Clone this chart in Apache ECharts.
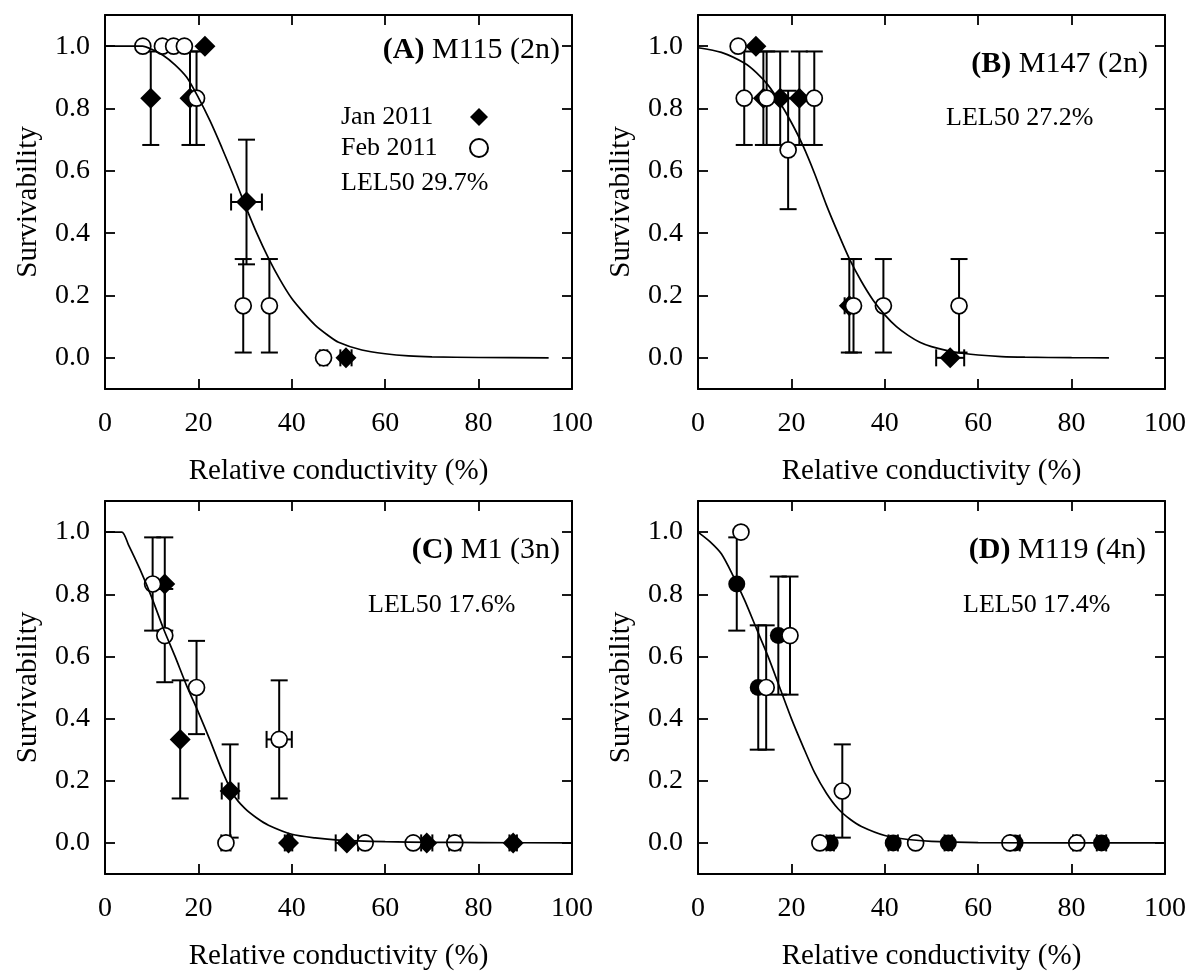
<!DOCTYPE html>
<html><head><meta charset="utf-8">
<script src="https://cdn.jsdelivr.net/npm/echarts@6.0.0/dist/echarts.min.js"></script>
<style>html,body{margin:0;padding:0;background:#fff}#c{width:1191px;height:975px}</style>
</head><body><div id="c"></div>
<script>
// ---------- data ----------
const xTicks = [0, 20, 40, 60, 80, 100];
const yTicks = [0, 0.2, 0.4, 0.6, 0.8, 1.0];
const seriesNames = ['Jan 2011', 'Feb 2011'];
// rows: [relative conductivity %, survivability, y error, x error]
const A_jan = [[9.8,0.833,0.15,0],[18.2,0.833,0.15,0],[21.4,1.0,0,0],[30.3,0.5,0.2,3.3],[51.6,0,0,1.2]];
const A_feb = [[8.1,1,0,0],[12.3,1,0,0],[14.7,1,0,0],[17.0,1,0,0],[19.6,0.833,0.15,0],[29.6,0.167,0.15,0],[35.2,0.167,0.15,0],[46.8,0,0,0.8]];
const A_fit = [[0,1],[8,1],[10,0.99],[12.5,0.97],[15,0.94],[17.5,0.9],[20,0.835],[22.5,0.76],[25,0.675],[27.5,0.585],[30,0.49],[32.5,0.4],[35,0.32],[37.5,0.25],[40,0.19],[42.5,0.145],[45,0.105],[47.5,0.075],[50,0.05],[55,0.025],[60,0.013],[65,0.006],[70,0.003],[80,0.001],[95,0]];

const B_jan = [[12.4,1,0,0],[14.0,0.833,0.15,0],[17.6,0.833,0.15,0],[21.7,0.833,0.15,0],[32.4,0.167,0.15,1.0],[54.0,0,0,3.0]];
const B_feb = [[8.6,1,0,0],[9.9,0.833,0.15,0],[14.7,0.833,0.15,0],[19.3,0.667,0.19,0],[24.9,0.833,0.15,0],[33.3,0.167,0.15,0],[39.7,0.167,0.15,0],[55.9,0.167,0.15,0]];
const B_fit = [[0,0.995],[5,0.98],[10,0.945],[12.5,0.915],[15,0.875],[17.5,0.82],[20,0.755],[22.5,0.68],[25,0.59],[27.5,0.49],[30,0.4],[32.5,0.315],[35,0.245],[37.5,0.185],[40,0.138],[42.5,0.1],[45,0.072],[47.5,0.05],[50,0.036],[55,0.018],[60,0.009],[65,0.004],[70,0.002],[80,0.0005],[88,0]];

const C_jan = [[12.8,0.833,0.15,0],[16.1,0.333,0.19,0],[26.8,0.167,0.15,1.8],[39.3,0,0,0.8],[51.8,0,0,2.4],[68.9,0,0,1.2],[87.4,0,0,0.8]];
const C_feb = [[10.2,0.833,0.15,0],[12.8,0.667,0.15,0],[19.6,0.5,0.15,0],[25.9,0,0,1.0],[37.3,0.333,0.19,2.7],[55.7,0,0,0],[66.0,0,0,0],[74.9,0,0,1.2]];
const C_fit = [[0,1],[3.6,1],[5,0.96],[7.5,0.88],[10,0.79],[12.5,0.69],[15,0.6],[17.5,0.505],[20,0.42],[22.5,0.33],[25,0.235],[27.5,0.155],[30,0.11],[32.5,0.08],[35,0.057],[40,0.028],[45,0.016],[50,0.009],[60,0.004],[70,0.002],[80,0.001],[100,0]];

const D_jan = [[8.3,0.833,0.15,0],[12.9,0.5,0.2,0],[17.2,0.667,0.19,0],[28.3,0,0,0.8],[41.8,0,0,1.0],[53.6,0,0,0.8],[67.9,0,0,1.0],[86.4,0,0,1.0]];
const D_feb = [[9.2,1,0,0],[14.6,0.5,0.2,0],[19.7,0.667,0.19,0],[30.9,0.167,0.15,0],[26.1,0,0,0],[46.6,0,0,0],[66.8,0,0,0],[81.1,0,0,0.8]];
const D_fit = [[0,1],[2.5,0.97],[5,0.93],[7.5,0.86],[10,0.78],[12.5,0.69],[15,0.6],[17.5,0.5],[20,0.4],[22.5,0.31],[25,0.225],[27.5,0.16],[30,0.11],[32.5,0.077],[35,0.053],[40,0.024],[45,0.011],[50,0.005],[60,0.001],[100,0]];

const panelTitles = [['(A)', ' M115 (2n)'], ['(B)', ' M147 (2n)'], ['(C)', ' M1 (3n)'], ['(D)', ' M119 (4n)']];
const lelTexts = ['LEL50 29.7%', 'LEL50 27.2%', 'LEL50 17.6%', 'LEL50 17.4%'];
const xName = 'Relative conductivity (%)';
const yName = 'Survivability';

// ---------- layout ----------
const FONT = '"Liberation Serif", "Times New Roman", serif';
const panels = [
  {grid:{left:105,top:15,width:467,height:374}, jan:A_jan, feb:A_feb, fit:A_fit, janSymbol:'diamond', titlePos:[560,50], lelPos:[341,183]},
  {grid:{left:698,top:15,width:467,height:374}, jan:B_jan, feb:B_feb, fit:B_fit, janSymbol:'diamond', titlePos:[1148,64], lelPos:[946,118]},
  {grid:{left:105,top:501,width:467,height:373}, jan:C_jan, feb:C_feb, fit:C_fit, janSymbol:'diamond', titlePos:[560,550], lelPos:[368,605]},
  {grid:{left:698,top:501,width:467,height:373}, jan:D_jan, feb:D_feb, fit:D_fit, janSymbol:'circle', titlePos:[1146,550], lelPos:[963,605]}
];

function errRender(params, api) {
  const x = api.value(0), y = api.value(1), ey = api.value(2), ex = api.value(3);
  const cap = 8.5, style = {stroke:'#000', lineWidth:2, fill:null};
  const ch = [];
  if (ey > 0) {
    const t = api.coord([x, y + ey]), b = api.coord([x, y - ey]);
    ch.push({type:'line', shape:{x1:t[0], y1:t[1], x2:b[0], y2:b[1]}, style});
    ch.push({type:'line', shape:{x1:t[0]-cap, y1:t[1], x2:t[0]+cap, y2:t[1]}, style});
    ch.push({type:'line', shape:{x1:b[0]-cap, y1:b[1], x2:b[0]+cap, y2:b[1]}, style});
  }
  if (ex > 0) {
    const l = api.coord([x - ex, y]), r = api.coord([x + ex, y]);
    ch.push({type:'line', shape:{x1:l[0], y1:l[1], x2:r[0], y2:r[1]}, style});
    ch.push({type:'line', shape:{x1:l[0], y1:l[1]-cap, x2:l[0], y2:l[1]+cap}, style});
    ch.push({type:'line', shape:{x1:r[0], y1:r[1]-cap, x2:r[0], y2:r[1]+cap}, style});
  }
  return {type:'group', children: ch};
}

const grids = [], xAxes = [], yAxes = [], series = [], graphics = [];
const axisLine = {show:true, onZero:false, lineStyle:{color:'#000', width:2}};
const tickStyle = {color:'#000', width:1.8};
panels.forEach((p, i) => {
  grids.push(Object.assign({show:false}, p.grid));
  xAxes.push({type:'value', gridIndex:i, position:'bottom', min:0, max:100, interval:20,
    axisLine, splitLine:{show:false},
    axisTick:{show:true, inside:true, length:10, lineStyle:tickStyle, customValues:xTicks},
    axisLabel:{show:true, margin:21, fontSize:28, fontFamily:FONT, color:'#000', customValues:xTicks},
    name:xName, nameLocation:'middle', nameGap:68, nameTextStyle:{fontSize:29, fontFamily:FONT, color:'#000'}});
  xAxes.push({type:'value', gridIndex:i, position:'top', min:0, max:100, interval:20,
    axisLine, splitLine:{show:false},
    axisTick:{show:true, inside:true, length:10, lineStyle:tickStyle, customValues:xTicks},
    axisLabel:{show:false}});
  yAxes.push({type:'value', gridIndex:i, position:'left', min:-0.1, max:1.1,
    axisLine, splitLine:{show:false},
    axisTick:{show:true, inside:true, length:10, lineStyle:tickStyle, customValues:yTicks},
    axisLabel:{show:true, margin:15, fontSize:28, fontFamily:FONT, color:'#000', customValues:yTicks,
      formatter: v => Number(v).toFixed(1)},
    name:yName, nameLocation:'middle', nameGap:62, nameTextStyle:{fontSize:29, fontFamily:FONT, color:'#000'}});
  yAxes.push({type:'value', gridIndex:i, position:'right', min:-0.1, max:1.1,
    axisLine, splitLine:{show:false},
    axisTick:{show:true, inside:true, length:10, lineStyle:tickStyle, customValues:yTicks},
    axisLabel:{show:false}});
  const xi = 2*i, yi = 2*i;
  series.push({type:'custom', name:'Jan err', xAxisIndex:xi, yAxisIndex:yi, renderItem:errRender,
    data:p.jan, encode:{x:0, y:1}, z:2, silent:true});
  series.push({type:'scatter', name:seriesNames[0], xAxisIndex:xi, yAxisIndex:yi, data:p.jan,
    encode:{x:0, y:1}, symbol:p.janSymbol, symbolSize:p.janSymbol === 'diamond' ? 21 : 17,
    itemStyle:{color:'#000', opacity:1}, z:3});
  series.push({type:'custom', name:'Feb err', xAxisIndex:xi, yAxisIndex:yi, renderItem:errRender,
    data:p.feb, encode:{x:0, y:1}, z:4, silent:true});
  series.push({type:'scatter', name:seriesNames[1], xAxisIndex:xi, yAxisIndex:yi, data:p.feb,
    encode:{x:0, y:1}, symbol:'circle', symbolSize:16,
    itemStyle:{color:'#fff', borderColor:'#000', borderWidth:1.7, opacity:1}, z:5});
  series.push({type:'line', name:'fit', xAxisIndex:xi, yAxisIndex:yi, data:p.fit, showSymbol:false,
    symbol:'none', smooth:0.25, lineStyle:{color:'#000', width:1.7}, z:6, silent:true});

  graphics.push({type:'text', x:p.titlePos[0], y:p.titlePos[1], silent:true,
    style:{text:'{b|' + panelTitles[i][0] + '}{n|' + panelTitles[i][1] + '}', align:'right', verticalAlign:'middle',
      fontSize:30, fontFamily:FONT, fill:'#000',
      rich:{b:{fontSize:30, fontFamily:FONT, fontWeight:'bold', fill:'#000'}, n:{fontSize:30, fontFamily:FONT, fill:'#000'}}}});
  graphics.push({type:'text', x:p.lelPos[0], y:p.lelPos[1], silent:true,
    style:{text:lelTexts[i], align:'left', verticalAlign:'middle', fontSize:26, fontFamily:FONT, fill:'#000'}});
});

const chart = echarts.init(document.getElementById('c'), null, {renderer:'canvas'});
chart.setOption({
  backgroundColor:'#fff',
  animation:false,
  grid:grids, xAxis:xAxes, yAxis:yAxes, series,
  graphic:graphics,
  legend:{data:seriesNames, orient:'vertical', left:341, top:104, align:'right', padding:0,
    itemWidth:18, itemHeight:18, itemGap:5, selectedMode:false,
    formatter: n => '{t|' + n + '}',
    textStyle:{fontSize:26, fontFamily:FONT, color:'#000',
      rich:{t:{width:124, align:'left', fontSize:26, fontFamily:FONT, color:'#000', lineHeight:26}}}},
  tooltip:{show:false}
});
</script></body></html>
